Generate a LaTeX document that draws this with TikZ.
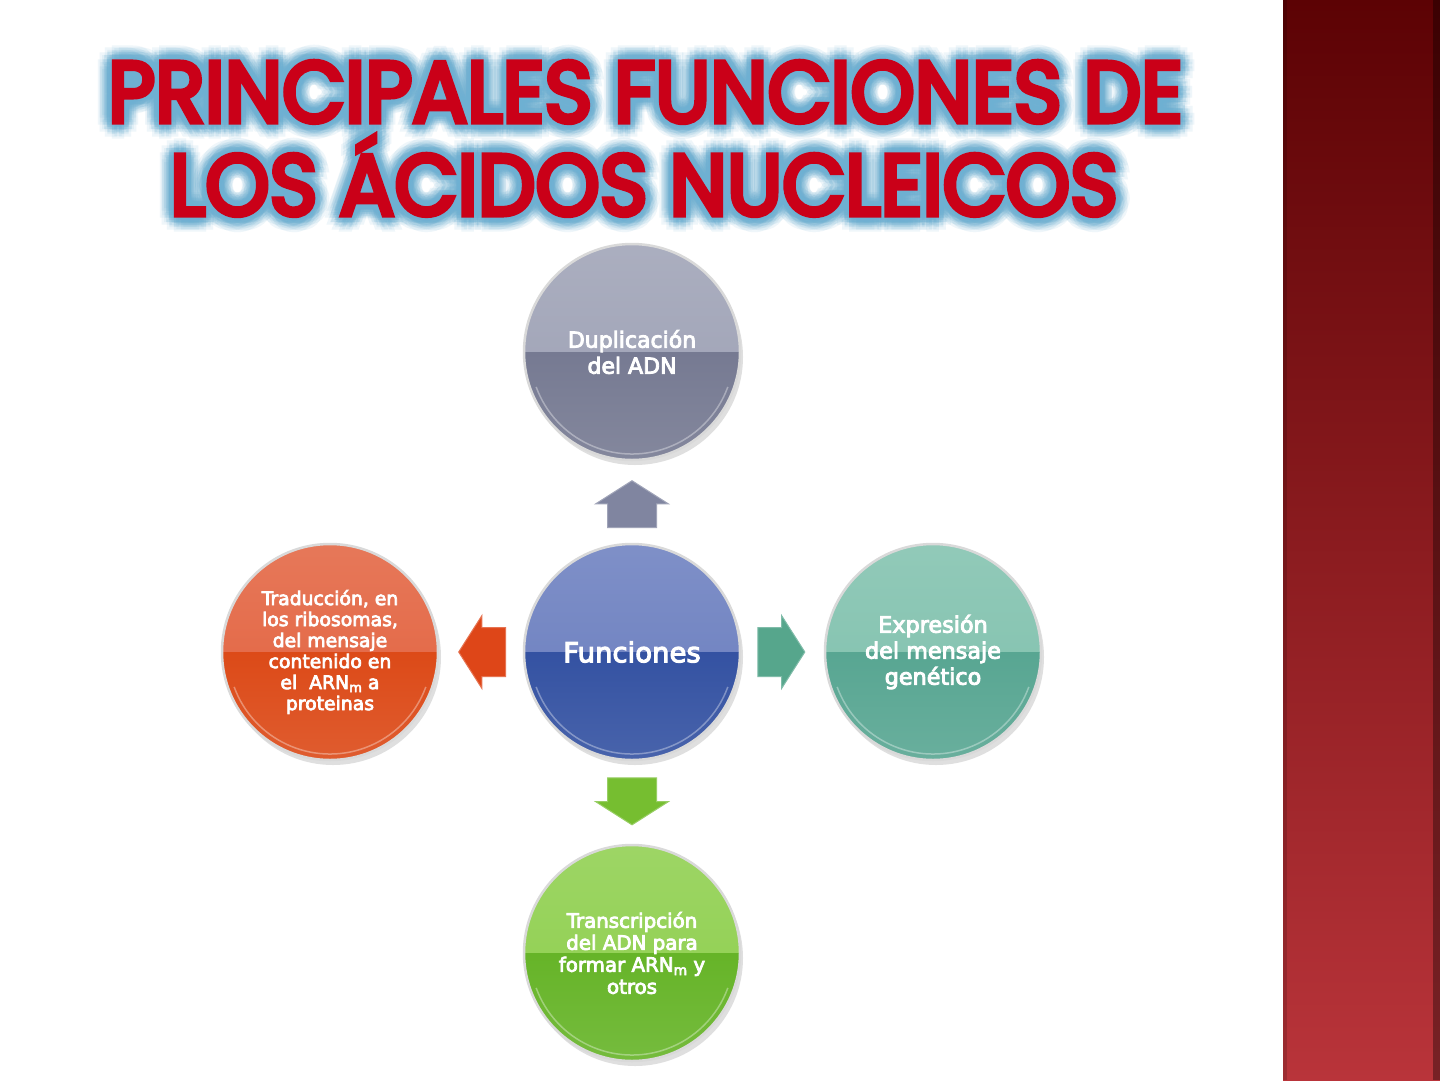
\documentclass[tikz,border=0pt]{standalone}
\usepackage{fontspec}
\usepackage{graphicx}
\usetikzlibrary{shapes.arrows,shadows,calc}
\newfontfamily\titlefont{Poppins}[FakeBold=6]
\newfontfamily\ballfont{DejaVu Sans}[FakeBold=4]
\definecolor{titlered}{RGB}{202,0,24}
\definecolor{glowblue}{RGB}{110,176,210}
\definecolor{barTop}{RGB}{92,2,4}
\definecolor{barMid}{RGB}{140,30,32}
\definecolor{barBot}{RGB}{185,52,58}
\definecolor{dupT}{RGB}{156,160,180}
\definecolor{dupB}{RGB}{118,122,146}
\definecolor{funT}{RGB}{104,124,190}
\definecolor{funB}{RGB}{52,82,162}
\definecolor{traT}{RGB}{226,96,60}
\definecolor{traB}{RGB}{220,74,24}
\definecolor{expT}{RGB}{126,192,172}
\definecolor{expB}{RGB}{88,166,146}
\definecolor{trnT}{RGB}{140,206,74}
\definecolor{trnB}{RGB}{102,180,40}
\definecolor{arrUp}{RGB}{128,133,160}
\definecolor{arrLeft}{RGB}{222,70,24}
\definecolor{arrRight}{RGB}{86,166,140}
\definecolor{arrDown}{RGB}{118,190,48}
\newcommand\subm{\raisebox{-0.3ex}{\scalebox{0.7}{m}}}
\newcommand\titleA{\resizebox{1075pt}{\height}{\titlefont\fontsize{86pt}{86pt}\selectfont PRINCIPALES FUNCIONES DE}}
\newcommand\titleB{\resizebox{948pt}{\height}{\titlefont\fontsize{86pt}{86pt}\selectfont LOS ÁCIDOS NUCLEICOS}}
\begin{document}
\begin{tikzpicture}[x=1pt,y=-1pt,
  ball/.style n args={2}{circle, minimum size=216pt, inner sep=0pt,
    draw=white!85!black, line width=2.5pt, fill=#2, text=white, align=center,
    path picture={
      \shade[top color=#1!85!white, bottom color=#1]
        (path picture bounding box.north west) rectangle (path picture bounding box.east);
      \shade[top color=#2, bottom color=#2!90!white]
        (path picture bounding box.west) rectangle (path picture bounding box.south east);
      \draw[white, opacity=0.35, line width=1.5pt]
        ($(path picture bounding box.center)+(200:102pt)$) arc[start angle=200, end angle=340, radius=102pt];
    },
    drop shadow={shadow xshift=3pt, shadow yshift=-5pt, opacity=0.25}},
  arr/.style={single arrow, single arrow tip angle=115, single arrow head extend=12pt,
    minimum height=47pt, minimum width=0pt, inner xsep=0pt, inner ysep=24pt,
    fill=#1, draw=#1!75!white, line width=1pt},
  titletext/.style={anchor=base, inner sep=0pt},
  glow/.style={titletext, text=glowblue, opacity=#1}
]
\useasboundingbox (0,0) rectangle (1440,1080);
\fill[white] (0,0) rectangle (1440,1080);
% side bar
\shade[top color=barTop, middle color=barMid, bottom color=barBot] (1283,0) rectangle (1440,1080);
\fill[black, opacity=0.35] (1433,0) rectangle (1440,1080);
\fill[black, opacity=0.15] (1283,0) rectangle (1287,1080);
% title glow
\foreach \r/\o in {14/0.11,9/0.18,5/0.24}{
  \foreach \a in {0,30,...,330}{
    \node[glow=\o] at ($(645.5,122)+(\a:\r pt)$) {\titleA};
    \node[glow=\o] at ($(644,215)+(\a:\r pt)$) {\titleB};
  }
}
\node[titletext, text=titlered] (t1) at (645.5,122) {\titleA};
\node[titletext, text=titlered] (t2) at (644,215) {\titleB};
% balls
\node[ball={dupT}{dupB}, font=\ballfont\fontsize{22pt}{26pt}\selectfont] (dup) at (632,352) {Duplicación\\del ADN};
\node[ball={funT}{funB}, font=\ballfont\fontsize{27.5pt}{32pt}\selectfont] (fun) at (632,652) {Funciones};
\node[ball={traT}{traB}, font=\ballfont\fontsize{18.8pt}{21pt}\selectfont] (tra) at (330,652) {Traducción, en\\los ribosomas,\\del mensaje\\contenido en\\el~~ARN\subm{} a\\proteinas};
\node[ball={expT}{expB}, font=\ballfont\fontsize{22.3pt}{26pt}\selectfont] (exp) at (933,652) {Expresión\\del mensaje\\genético};
\node[ball={trnT}{trnB}, font=\ballfont\fontsize{19.8pt}{22pt}\selectfont] (trn) at (632,953) {Transcripción\\del ADN para\\formar ARN\subm{} y\\otros};
% arrows
\node[arr=arrUp, rotate=90] (aup) at ($(fun)!0.5!(dup)+(0,10)$) {};
\node[arr=arrLeft, rotate=180] (alf) at ($(fun)!0.5!(tra)+(9,0)$) {};
\node[arr=arrRight] (art) at ($(fun)!0.5!(exp)+(-9,0)$) {};
\node[arr=arrDown, rotate=-90] (adn) at ($(fun)!0.5!(trn)+(0,-9)$) {};
\end{tikzpicture}
\end{document}
